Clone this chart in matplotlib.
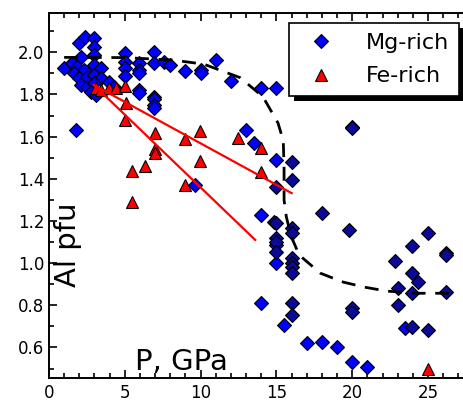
import matplotlib
matplotlib.use("Agg")
import matplotlib.pyplot as plt
from matplotlib.patches import Rectangle
from matplotlib.ticker import MultipleLocator

plt.rcParams['font.family'] = ['DejaVu Sans']

# Mg-rich (bright blue)
mg_p = [1.02, 1.97, 2.4, 2.96, 2.96, 2.08, 2.96, 1.53, 1.86, 2.3, 2.96, 3.4, 1.64, 1.97, 2.52,
        2.96, 3.4, 2.08, 2.52, 2.96, 2.74, 3.07, 3.95, 4.27, 5.0, 5.0, 5.0, 5.0, 5.92, 5.92,
        5.92, 5.92, 5.92, 6.95, 6.95, 6.95, 6.95, 6.95, 6.95, 7.57, 8.0, 9.0, 10.0, 10.0,
        11.0, 12.0, 12.96, 13.5, 14.0, 15.0, 15.0, 9.66, 1.75, 14.0, 15.0, 15.0, 14.0, 15.5,
        17.0, 18.0, 19.0, 20.0, 21.0, 23.5]
mg_al = [1.924, 2.043, 2.074, 2.066, 2.027, 1.98, 1.987, 1.948, 1.932, 1.916, 1.94, 1.924, 1.9,
         1.877, 1.884, 1.892, 1.877, 1.845, 1.837, 1.853, 1.813, 1.797, 1.86, 1.837, 1.995,
         1.955, 1.924, 1.89, 1.948, 1.916, 1.9, 1.821, 1.805, 2.003, 1.948, 1.79, 1.78, 1.75,
         1.734, 1.955, 1.94, 1.913, 1.916, 1.9, 1.963, 1.864, 1.631, 1.571, 1.829, 1.829,
         1.489, 1.37, 1.631, 1.228, 1.085, 1.0, 0.809, 0.706, 0.619, 0.627, 0.6, 0.532, 0.505,
         0.69]

# Mg-rich (dark blue)
mgd_p = [15.0, 16.0, 16.0, 20.0, 20.0, 14.83, 15.0, 16.0, 16.0, 18.0, 19.78, 15.0, 15.0, 15.0,
         16.0, 16.0, 16.0, 16.0, 16.0, 16.0, 20.0, 20.0, 22.79, 23.96, 25.0, 26.2, 26.2, 23.96,
         24.3, 23.0, 23.96, 26.2, 23.0, 23.96, 25.0]
mgd_al = [1.362, 1.481, 1.394, 1.647, 1.64, 1.196, 1.188, 1.165, 1.141, 1.236, 1.157, 1.117,
          1.101, 1.054, 1.022, 1.0, 0.98, 0.954, 0.809, 0.753, 0.785, 0.769, 1.009, 1.081,
          1.144, 1.046, 1.038, 0.954, 0.911, 0.883, 0.856, 0.861, 0.8, 0.695, 0.682]

# Fe-rich
fe_p = [3.1, 3.4, 3.95, 4.45, 4.98, 5.05, 5.0, 6.98, 8.96, 9.99, 6.98, 6.98, 9.99, 5.49, 6.3,
        8.96, 5.49, 12.45, 14.0, 14.0, 25.0]
fe_al = [1.83, 1.82, 1.83, 1.83, 1.84, 1.758, 1.679, 1.616, 1.589, 1.626, 1.54, 1.524, 1.486,
         1.438, 1.46, 1.37, 1.288, 1.592, 1.544, 1.433, 0.5]

# dashed trend curve
curve_p = [1.0, 5.0, 8.2, 10.2, 12.6, 14.1, 15.1, 15.45, 15.5, 15.5, 15.65, 15.95, 16.5, 17.9,
           19.4, 20.8, 22.3, 24.3, 26.7]
curve_al = [1.976, 1.975, 1.963, 1.944, 1.88, 1.79, 1.665, 1.58, 1.45, 1.30, 1.22, 1.13, 1.038,
            0.952, 0.91, 0.886, 0.867, 0.857, 0.857]

# red trend lines
lineA_p = [2.96, 16.0]
lineA_al = [1.845, 1.332]
lineB_p = [2.96, 13.6]
lineB_al = [1.845, 1.11]

fig = plt.figure(figsize=(4.63, 4.03), dpi=100)
ax = fig.add_axes([49/463, 25/403, 1 - 49/463, (378-12.7)/403])

ax.plot(mg_p, mg_al, 'D', ms=7.2, mfc='#0000ff', mec='black', mew=0.8, ls='none',
        label='Mg-rich', zorder=3)
ax.plot(mgd_p, mgd_al, 'D', ms=7.2, mfc='#0a0a96', mec='black', mew=0.8, ls='none', zorder=3)
ax.plot(fe_p, fe_al, '^', ms=9, mfc='#ff0000', mec='black', mew=0.8, ls='none',
        label='Fe-rich', zorder=3)
ax.plot(curve_p, curve_al, color='black', lw=2, dashes=(5, 3.5), zorder=4)
ax.plot(lineA_p, lineA_al, color='#ff0000', lw=1.6, zorder=4)
ax.plot(lineB_p, lineB_al, color='#ff0000', lw=1.6, zorder=4)

ax.set_xlim(0, 27.3)
ax.set_ylim(0.455, 2.188)
ax.xaxis.set_major_locator(MultipleLocator(5))
ax.xaxis.set_minor_locator(MultipleLocator(1))
ax.yaxis.set_major_locator(MultipleLocator(0.2))
ax.yaxis.set_minor_locator(MultipleLocator(0.1))
ax.yaxis.set_major_formatter(plt.FuncFormatter(lambda v, p: f"{v:.1f}"))
ax.tick_params(axis='both', which='both', top=True, right=False, direction='in',
               labelsize=12, width=1.2, colors='black')
ax.tick_params(axis='both', which='major', length=6)
ax.tick_params(axis='both', which='minor', length=3.5)
ax.tick_params(axis='x', which='major', pad=4)
ax.spines['right'].set_visible(False)
for s in ['left', 'bottom', 'top']:
    ax.spines[s].set_linewidth(1.4)

ax.text(0.045, 0.365, 'Al pfu', transform=ax.transAxes, rotation=90, fontsize=21,
        ha='center', va='center')
ax.text(0.32, 0.005, 'P, GPa', transform=ax.transAxes, fontsize=21, ha='center',
        va='bottom')

leg = ax.legend(loc='upper right', bbox_to_anchor=(459/463, 1 - 23/403),
                bbox_transform=fig.transFigure, borderaxespad=0,
                fontsize=16, frameon=True, fancybox=False, edgecolor='black',
                framealpha=1, borderpad=0.45, handletextpad=1.0, labelspacing=0.6,
                handlelength=2.0)
leg.get_frame().set_linewidth(1.2)
leg.set_zorder(10)

fig.canvas.draw()
bb = leg.get_window_extent()
shadow = Rectangle((bb.x0 + 5, bb.y0 - 5), bb.width, bb.height, transform=None,
                   facecolor='black', edgecolor='none', zorder=9, clip_on=False)
ax.add_artist(shadow)

fig.savefig('out.png', dpi=100)
